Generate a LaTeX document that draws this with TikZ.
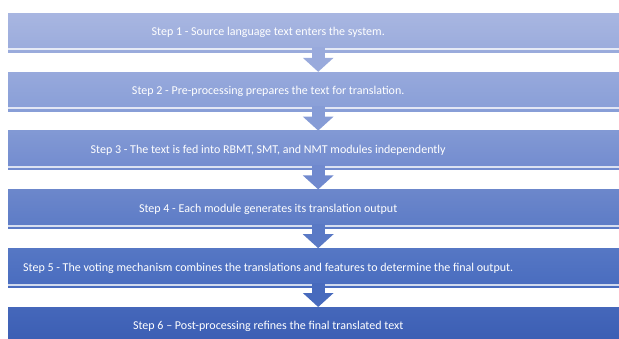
\documentclass[tikz,border=0pt]{standalone}
\usepackage{fontspec}
\setmainfont{Carlito}
\usetikzlibrary{positioning,arrows.meta}

\definecolor{stepAtop}{HTML}{A8B6E1}
\definecolor{stepAbot}{HTML}{9AABDC}
\definecolor{stepBtop}{HTML}{97A9DC}
\definecolor{stepBbot}{HTML}{889ED7}
\definecolor{stepCtop}{HTML}{8299D4}
\definecolor{stepCbot}{HTML}{728BCF}
\definecolor{stepDtop}{HTML}{6C87CB}
\definecolor{stepDbot}{HTML}{5C7BC6}
\definecolor{stepEtop}{HTML}{5677C4}
\definecolor{stepEbot}{HTML}{496CBF}
\definecolor{stepFtop}{HTML}{4567BA}
\definecolor{stepFbot}{HTML}{3A5DB3}

\newcommand{\steptext}[1]{\makebox[520pt]{#1}\kern100pt\relax}

\begin{document}
\begin{tikzpicture}[x=1pt,y=-1pt,
  stepbox/.style={rectangle, minimum width=620pt, minimum height=39pt,
    inner sep=0pt, text=white, anchor=north west,
    font=\fontsize{12}{14}\selectfont},
  stripe/.style={white, opacity=0.75},
  steparrow/.style={line width=13pt, -{Triangle[width=30pt,length=14pt]}}]
  \useasboundingbox (0,0) rectangle (619,338);
  \clip (0,0) rectangle (619,338);

  % the six steps
  \node[stepbox, top color=stepAtop, bottom color=stepAbot] (s1) at (8,13)
    {\steptext{Step 1 - Source language text enters the system.}};
  \node[stepbox, top color=stepBtop, bottom color=stepBbot, below=19.4pt of s1] (s2)
    {\steptext{Step 2 - Pre-processing prepares the text for translation.}};
  \node[stepbox, top color=stepCtop, bottom color=stepCbot, below=19.4pt of s2] (s3)
    {\steptext{Step 3 - The text is fed into RBMT, SMT, and NMT modules independently}};
  \node[stepbox, top color=stepDtop, bottom color=stepDbot, below=19.4pt of s3] (s4)
    {\steptext{Step 4 - Each module generates its translation output}};
  \node[stepbox, top color=stepEtop, bottom color=stepEbot, below=19.4pt of s4] (s5)
    {\steptext{Step 5 - The voting mechanism combines the translations and features to determine the final output.}};
  \node[stepbox, top color=stepFtop, bottom color=stepFbot, below=19.4pt of s5] (s6)
    {\steptext{Step 6 -- Post-processing refines the final translated text}};

  % light stripes at the bottom of each box
  \fill[stripe] ([yshift=4pt]s1.south west) rectangle ([yshift=2pt]s1.south east);
  \fill[stripe] ([yshift=4pt]s2.south west) rectangle ([yshift=2pt]s2.south east);
  \fill[stripe] ([yshift=4pt]s3.south west) rectangle ([yshift=2pt]s3.south east);
  \fill[stripe] ([yshift=4pt]s4.south west) rectangle ([yshift=2pt]s4.south east);
  \fill[stripe] ([yshift=4pt]s5.south west) rectangle ([yshift=2pt]s5.south east);

  % arrows
  \draw[steparrow, stepAbot!60!stepBtop] ([yshift=5pt]s1.south) -- (s2.north);
  \draw[steparrow, stepBbot!60!stepCtop] ([yshift=5pt]s2.south) -- (s3.north);
  \draw[steparrow, stepCbot!60!stepDtop] ([yshift=5pt]s3.south) -- (s4.north);
  \draw[steparrow, stepDbot!60!stepEtop] ([yshift=5pt]s4.south) -- (s5.north);
  \draw[steparrow, stepEbot!60!stepFtop] ([yshift=5pt]s5.south) -- (s6.north);
\end{tikzpicture}
\end{document}
